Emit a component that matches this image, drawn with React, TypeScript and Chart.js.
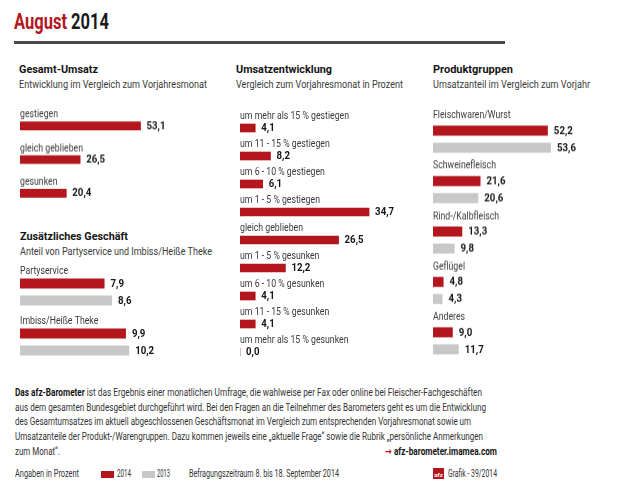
import React, { useEffect, useLayoutEffect, useRef } from "react";
import { Chart, registerables } from "chart.js";
Chart.register(...registerables);

const FONT = 'Roboto, "DejaVu Sans", sans-serif';
const RED = "#b3161c";
const GRAY = "#c8c8c8";

// ---- data ----
const gesamtCategories = ["gestiegen", "gleich geblieben", "gesunken"];
const gesamt2014 = [53.1, 26.5, 20.4];

const zusatzCategories = ["Partyservice", "Imbiss/Heiße Theke"];
const zusatz2014 = [7.9, 9.9];
const zusatz2013 = [8.6, 10.2];

const entwicklungCategories = [
  "um mehr als 15 % gestiegen",
  "um 11 - 15 % gestiegen",
  "um 6 - 10 % gestiegen",
  "um 1 - 5 % gestiegen",
  "gleich geblieben",
  "um 1 - 5 % gesunken",
  "um 6 - 10 % gesunken",
  "um 11 - 15 % gesunken",
  "um mehr als 15 % gesunken",
];
const entwicklung2014 = [4.1, 8.2, 6.1, 34.7, 26.5, 12.2, 4.1, 4.1, 0.0];

const produktCategories = ["Fleischwaren/Wurst", "Schweinefleisch", "Rind-/Kalbfleisch", "Geflügel", "Anderes"];
const produkt2014 = [52.2, 21.6, 13.3, 4.8, 9.0];
const produkt2013 = [53.6, 20.6, 9.8, 4.3, 11.7];

const footerLines = [
  "ist das Ergebnis einer monatlichen Umfrage, die wahlweise per Fax oder online bei Fleischer-Fachgeschäften",
  "aus dem gesamten Bundesgebiet durchgeführt wird. Bei den Fragen an die Teilnehmer des Barometers geht es um die Entwicklung",
  "des Gesamtumsatzes im aktuell abgeschlossenen Geschäftsmonat im Vergleich zum entsprechenden Vorjahresmonat sowie um",
  "Umsatzanteile der Produkt-/Warengruppen. Dazu kommen jeweils eine „aktuelle Frage“ sowie die Rubrik „persönliche Anmerkungen",
  "zum Monat“.",
];
const footerWidths = [467, 471, 456, 468, 45];

// reference widths used to condense the fonts
const LABEL_SAMPLE = "um mehr als 15 % gestiegen";
const LABEL_SAMPLE_W = 109;
const VALUE_SAMPLE = "53,1";
const VALUE_SAMPLE_W = 19;

type Series = { label: string; values: number[]; color: string };
type PanelProps = {
  left: number;
  top: number;
  width: number;
  height: number;
  padTop: number;
  labels: string[];
  series: Series[];
  pxPerUnit: number;
  barThickness?: number;
  categoryPercentage?: number;
  barPercentage?: number;
  labelOffset: number;
};

function drawScaled(ctx: CanvasRenderingContext2D, text: string, x: number, y: number, s: number) {
  ctx.save();
  ctx.translate(x, y);
  ctx.scale(s, 1);
  ctx.fillText(text, 0, 0);
  ctx.restore();
}

function BarPanel(p: PanelProps) {
  const ref = useRef<HTMLCanvasElement>(null);
  useEffect(() => {
    const labelPlugin = {
      id: "barLabels",
      afterDatasetsDraw(chart: any) {
        const ctx: CanvasRenderingContext2D = chart.ctx;
        ctx.save();
        ctx.textBaseline = "middle";
        ctx.textAlign = "left";
        const meta0 = chart.getDatasetMeta(0);
        ctx.fillStyle = "#3a3a3a";
        ctx.font = `10.5px ${FONT}`;
        const ls = LABEL_SAMPLE_W / ctx.measureText(LABEL_SAMPLE).width;
        chart.data.labels.forEach((lab: string, i: number) => {
          const el = meta0.data[i];
          drawScaled(ctx, lab, chart.chartArea.left, el.y - p.labelOffset, ls);
        });
        ctx.font = `bold 10.5px ${FONT}`;
        const vs = VALUE_SAMPLE_W / ctx.measureText(VALUE_SAMPLE).width;
        ctx.fillStyle = "#151515";
        chart.data.datasets.forEach((ds: any, di: number) => {
          const meta = chart.getDatasetMeta(di);
          meta.data.forEach((el: any, i: number) => {
            const v = ds.data[i] as number;
            drawScaled(ctx, v.toFixed(1).replace(".", ","), el.x + 6, el.y + 0.5, vs);
          });
        });
        ctx.restore();
      },
    };
    const chart = new Chart(ref.current as HTMLCanvasElement, {
      type: "bar",
      data: {
        labels: p.labels,
        datasets: p.series.map((s) => ({
          label: s.label,
          data: s.values,
          backgroundColor: s.color,
          borderWidth: 0,
          ...(p.barThickness ? { barThickness: p.barThickness } : {}),
          categoryPercentage: p.categoryPercentage ?? 0.8,
          barPercentage: p.barPercentage ?? 0.9,
        })),
      },
      options: {
        indexAxis: "y",
        responsive: false,
        animation: false,
        layout: { padding: { top: p.padTop, left: 0, right: 0, bottom: 0 } },
        plugins: { legend: { display: false }, tooltip: { enabled: false } },
        scales: {
          x: { display: false, min: 0, max: p.width / p.pxPerUnit },
          y: { display: false },
        },
      },
      plugins: [labelPlugin],
    } as any);
    return () => chart.destroy();
  }, []);
  return (
    <canvas
      ref={ref}
      width={p.width}
      height={p.height}
      style={{ position: "absolute", left: p.left, top: p.top, width: p.width, height: p.height }}
    />
  );
}

// text that is horizontally condensed to a measured width
function T(props: { x: number; y: number; w: number; size: number; bold?: boolean; color?: string; children: any }) {
  const ref = useRef<HTMLDivElement>(null);
  const lh = props.size + 4;
  useLayoutEffect(() => {
    const el = ref.current;
    if (!el) return;
    el.style.transform = "none";
    const natural = el.getBoundingClientRect().width;
    if (natural > 0) el.style.transform = `scaleX(${props.w / natural})`;
  });
  return (
    <div
      ref={ref}
      style={{
        position: "absolute",
        left: props.x,
        top: props.y - lh / 2,
        fontSize: props.size,
        lineHeight: lh + "px",
        fontWeight: props.bold ? 700 : 400,
        color: props.color ?? "#3a3a3a",
        whiteSpace: "nowrap",
        fontFamily: FONT,
        transformOrigin: "0 50%",
      }}
    >
      {props.children}
    </div>
  );
}

export default function App() {
  return (
    <div style={{ position: "fixed", left: 0, top: 0, width: 620, height: 488, background: "#fff", overflow: "hidden", fontFamily: FONT }}>
      <T x={14} y={21.5} w={95} size={22.5} bold color="#1a1a1a">
        <span style={{ color: RED }}>August</span> 2014
      </T>
      <div style={{ position: "absolute", left: 14, top: 41, width: 491, height: 2.5, background: "#4a4a4a" }} />

      <T x={19} y={70} w={79} size={11.5} bold color="#151515">Gesamt-Umsatz</T>
      <T x={19} y={85} w={188} size={10}>Entwicklung im Vergleich zum Vorjahresmonat</T>
      <BarPanel
        left={20}
        top={95.25}
        width={190}
        height={114.5}
        padTop={14}
        labels={gesamtCategories}
        series={[{ label: "2014", values: gesamt2014, color: RED }]}
        pxPerUnit={2.27}
        barThickness={8}
        labelOffset={11}
      />

      <T x={20} y={237} w={108} size={11.5} bold color="#151515">Zusätzliches Geschäft</T>
      <T x={20} y={252} w={192} size={10}>Anteil von Partyservice und Imbiss/Heiße Theke</T>
      <BarPanel
        left={20}
        top={254.5}
        width={160}
        height={112}
        padTop={12}
        labels={zusatzCategories}
        series={[
          { label: "2014", values: zusatz2014, color: RED },
          { label: "2013", values: zusatz2013, color: GRAY },
        ]}
        pxPerUnit={10.7}
        categoryPercentage={0.68}
        barPercentage={10 / 17}
        labelOffset={12}
      />

      <T x={236} y={70} w={96} size={11.5} bold color="#151515">Umsatzentwicklung</T>
      <T x={236} y={85} w={167} size={10}>Vergleich zum Vorjahresmonat in Prozent</T>
      <BarPanel
        left={240}
        top={100}
        width={175}
        height={266}
        padTop={14}
        labels={entwicklungCategories}
        series={[{ label: "2014", values: entwicklung2014, color: RED }]}
        pxPerUnit={3.72}
        barThickness={8}
        labelOffset={12}
      />

      <T x={433} y={70} w={80} size={11.5} bold color="#151515">Produktgruppen</T>
      <T x={433} y={85} w={157} size={10}>Umsatzanteil im Vergleich zum Vorjahr</T>
      <BarPanel
        left={433}
        top={100.4}
        width={165}
        height={265.25}
        padTop={14}
        labels={produktCategories}
        series={[
          { label: "2014", values: produkt2014, color: RED },
          { label: "2013", values: produkt2013, color: GRAY },
        ]}
        pxPerUnit={2.2}
        categoryPercentage={34 / 50.25}
        barPercentage={10 / 17}
        labelOffset={15}
      />

      {footerLines.map((line, i) => (
        <T key={i} x={15} y={393 + i * 14.7} w={footerWidths[i]} size={10} color="#333">
          {i === 0 ? (
            <>
              <b style={{ color: "#151515" }}>Das afz-Barometer</b> {line}
            </>
          ) : (
            line
          )}
        </T>
      ))}
      <T x={385} y={451.8} w={112} size={10.5} bold color="#151515">
        <span style={{ color: RED }}>→</span> afz-barometer.imamea.com
      </T>

      <T x={15} y={474} w={64} size={10} color="#333">Angaben in Prozent</T>
      <div style={{ position: "absolute", left: 101, top: 470.5, width: 13, height: 7.5, background: RED }} />
      <T x={117} y={474} w={14} size={10} color="#333">2014</T>
      <div style={{ position: "absolute", left: 142, top: 470.5, width: 13, height: 7.5, background: GRAY }} />
      <T x={157} y={474} w={13} size={10} color="#333">2013</T>
      <T x={189} y={474} w={150} size={10} color="#333">Befragungszeitraum 8. bis 18. September 2014</T>
      <div
        style={{
          position: "absolute",
          left: 433,
          top: 468,
          width: 11,
          height: 11,
          background: RED,
          color: "#fff",
          fontSize: 6,
          fontWeight: 700,
          lineHeight: "14px",
          textAlign: "center",
          fontFamily: FONT,
          overflow: "hidden",
        }}
      >
        afz
      </div>
      <T x={448} y={474} w={49} size={10} color="#333">Grafik - 39/2014</T>
    </div>
  );
}
